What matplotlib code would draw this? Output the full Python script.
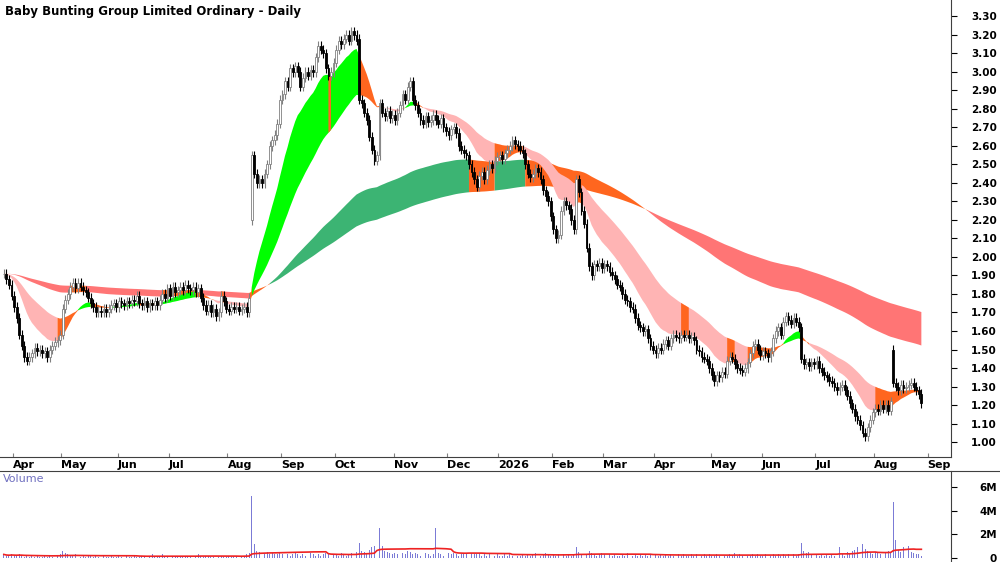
import matplotlib.pyplot as plt
import numpy as np
import pandas as pd

title = 'Baby Bunting Group Limited Ordinary - Daily'
month_labels = ['Apr', 'May', 'Jun', 'Jul', 'Aug', 'Sep', 'Oct', 'Nov', 'Dec', '2026',
                'Feb', 'Mar', 'Apr', 'May', 'Jun', 'Jul', 'Aug', 'Sep']
month_start_idx = [4, 23, 45, 65, 88, 109, 130, 153, 174, 194, 215, 235, 255, 277, 297, 318, 341, 362]

# daily closes, late Mar 2025 .. end Aug 2026 (20 bars per row)
close = [
    1.91, 1.88, 1.85, 1.79, 1.73, 1.67, 1.58, 1.52, 1.46, 1.44, 1.46, 1.48, 1.51, 1.49, 1.50, 1.48, 1.49, 1.46, 1.50, 1.52,
    1.54, 1.55, 1.58, 1.72, 1.77, 1.80, 1.84, 1.86, 1.83, 1.86, 1.84, 1.82, 1.81, 1.78, 1.75, 1.73, 1.70, 1.71, 1.70, 1.72,
    1.70, 1.72, 1.74, 1.75, 1.73, 1.76, 1.75, 1.74, 1.76, 1.75, 1.77, 1.76, 1.79, 1.75, 1.74, 1.76, 1.73, 1.75, 1.74, 1.76,
    1.74, 1.77, 1.80, 1.78, 1.83, 1.79, 1.84, 1.81, 1.82, 1.84, 1.82, 1.85, 1.83, 1.82, 1.84, 1.81, 1.83, 1.78, 1.74, 1.71,
    1.74, 1.70, 1.72, 1.68, 1.70, 1.79, 1.76, 1.72, 1.71, 1.73, 1.72, 1.73, 1.71, 1.72, 1.73, 1.70, 1.78, 2.55, 2.45, 2.40,
    2.42, 2.40, 2.45, 2.50, 2.60, 2.63, 2.66, 2.72, 2.85, 2.88, 2.95, 2.92, 3.02, 3.00, 3.03, 3.00, 2.92, 2.97, 3.00, 2.98,
    3.01, 3.00, 3.08, 3.14, 3.12, 3.10, 3.02, 2.98, 3.00, 3.05, 3.12, 3.17, 3.15, 3.18, 3.20, 3.17, 3.22, 3.20, 3.17, 2.85,
    2.83, 2.78, 2.74, 2.65, 2.58, 2.52, 2.55, 2.83, 2.78, 2.76, 2.79, 2.75, 2.77, 2.74, 2.78, 2.82, 2.88, 2.85, 2.92, 2.95,
    2.85, 2.82, 2.78, 2.74, 2.72, 2.76, 2.73, 2.74, 2.77, 2.74, 2.72, 2.75, 2.70, 2.68, 2.66, 2.69, 2.70, 2.67, 2.60, 2.58,
    2.56, 2.55, 2.50, 2.46, 2.42, 2.38, 2.44, 2.46, 2.42, 2.47, 2.50, 2.48, 2.52, 2.54, 2.55, 2.53, 2.56, 2.58, 2.60, 2.63,
    2.61, 2.60, 2.58, 2.56, 2.50, 2.45, 2.43, 2.45, 2.48, 2.46, 2.42, 2.36, 2.33, 2.30, 2.22, 2.15, 2.10, 2.12, 2.25, 2.30,
    2.28, 2.26, 2.20, 2.15, 2.42, 2.35, 2.25, 2.18, 2.05, 1.95, 1.90, 1.96, 1.95, 1.97, 1.94, 1.96, 1.95, 1.92, 1.90, 1.88,
    1.85, 1.84, 1.80, 1.77, 1.76, 1.73, 1.72, 1.67, 1.63, 1.62, 1.60, 1.61, 1.56, 1.52, 1.50, 1.48, 1.51, 1.50, 1.53, 1.55,
    1.52, 1.56, 1.58, 1.57, 1.56, 1.58, 1.57, 1.58, 1.56, 1.57, 1.55, 1.50, 1.49, 1.46, 1.45, 1.44, 1.40, 1.36, 1.33, 1.36,
    1.35, 1.38, 1.37, 1.44, 1.46, 1.45, 1.42, 1.40, 1.39, 1.38, 1.40, 1.43, 1.48, 1.52, 1.53, 1.50, 1.47, 1.49, 1.48, 1.46,
    1.49, 1.56, 1.60, 1.62, 1.58, 1.65, 1.68, 1.66, 1.64, 1.67, 1.65, 1.62, 1.45, 1.42, 1.43, 1.41, 1.43, 1.42, 1.44, 1.40,
    1.38, 1.36, 1.35, 1.33, 1.32, 1.30, 1.28, 1.30, 1.31, 1.28, 1.25, 1.21, 1.18, 1.14, 1.12, 1.09, 1.05, 1.03, 1.08, 1.12,
    1.16, 1.18, 1.17, 1.20, 1.18, 1.20, 1.17, 1.22, 1.32, 1.30, 1.28, 1.31, 1.29, 1.30, 1.31, 1.32, 1.30, 1.28, 1.26, 1.21,
]
# gap opens that differ from the previous close
open_overrides = {97: 2.20, 139: 3.18, 312: 1.62, 348: 1.50}

# daily volume in millions
volume = [
    .3, .2, .2, .3, .2, .2, .3, .2, .1, .2, .1, .2, .1, .2, .1, .1, .2, .1, .2, .1,
    .2, .2, .3, .6, .4, .3, .2, .2, .3, .2, .1, .2, .1, .2, .2, .1, .2, .1, .1, .2,
    .1, .1, .2, .1, .1, .2, .1, .1, .2, .1, .1, .2, .1, .1, .2, .1, .1, .2, .3, .1,
    .1, .2, .3, .2, .1, .2, .1, .2, .1, .1, .2, .1, .1, .2, .1, .2, .3, .2, .1, .2,
    .2, .1, .1, .2, .1, .2, .1, .1, .2, .1, .1, .2, .1, .1, .2, .3, .4, 5.2, 1.2, .6,
    .5, .4, .3, .5, .3, .4, .3, .3, .4, .3, .4, .3, .2, .3, .4, .3, .2, .3, .2, .3,
    .4, .3, .2, .3, .2, .3, .4, .3, .2, .3, .3, .2, .4, .3, .2, .3, .4, .3, .5, 1.3,
    .6, .5, .4, .7, .9, 1.0, 7.0, 2.5, 1.0, .6, .5, .4, .3, .4, .3, .3, .4, .3, .6, .5,
    .3, .4, .3, .2, .3, .4, .3, .2, .3, 2.5, .4, .3, .2, .3, .4, .3, .4, .3, .2, .3,
    .3, .4, .6, .4, .3, .3, .4, .2, .3, .2, .3, .2, .2, .3, .2, .2, .3, .2, .3, .2,
    .3, .2, .2, .3, .2, .3, .2, .3, .4, .3, .2, .3, .4, .3, .2, .3, .2, .3, .4, .3,
    .2, .3, .2, .3, .9, .5, .3, .4, .3, .6, .4, .3, .2, .3, .4, .3, .2, .3, .2, .3,
    .2, .2, .3, .2, .4, .3, .2, .3, .2, .3, .2, .3, .2, .3, .2, .3, .2, .3, .2, .3,
    .2, .3, .2, .2, .3, .2, .3, .2, .2, .3, .2, .3, .2, .2, .3, .2, .3, .2, .2, .3,
    .2, .3, .2, .2, .3, .2, .4, .2, .3, .2, .3, .2, .2, .3, .2, .3, .2, .2, .3, .3,
    .2, .3, .2, .3, .2, .3, .2, .3, .2, .3, .2, .3, 1.3, .6, .4, .5, .3, .4, .3, .2,
    .3, .2, .3, .2, .3, .2, .3, .9, .3, .2, .5, .3, .6, .7, .9, 1.1, 1.2, .8, .6, .4,
    .3, .5, .4, .3, .3, .4, .6, .5, 4.7, 1.5, .7, .5, .9, .6, 1.0, .5, .4, .3, .3, .2,
]

close = np.array(close)
vol = np.array(volume)
n = len(close)
x = np.arange(n)
opn = np.r_[close[0], close[:-1]]
for k, v in open_overrides.items():
    opn[k] = v
high = np.maximum(opn, close) + 0.025
low = np.minimum(opn, close) - 0.025

s = pd.Series(close)
ema = lambda p: s.ewm(span=p, adjust=False).mean().values
short_fast, short_slow = ema(15), ema(40)
long_fast, long_slow = ema(130), ema(220)

fig = plt.figure(figsize=(10, 5.62), dpi=100)
ax = fig.add_axes([0, 105 / 562, 0.951, 457 / 562])
axv = fig.add_axes([0, 0, 0.951, 91 / 562])

def ribbon(a, fast, slow, up_col, dn_col, mid_col):
    rising = np.r_[True, np.diff(fast) > 0]
    state = np.where((fast > slow) & rising, 0, np.where((fast < slow) & ~rising, 1, 2))
    cols = [up_col, dn_col, mid_col]
    lo, hi = np.minimum(fast, slow), np.maximum(fast, slow)
    for k in range(3):
        m = state == k
        m = m | np.r_[False, m[:-1]]
        a.fill_between(x, lo, hi, where=m, color=cols[k], lw=0, zorder=1)

ribbon(ax, long_fast, long_slow, '#3cb473', '#ff7575', '#ff661f')
ribbon(ax, short_fast, short_slow, '#00ff00', '#ffb4b4', '#ff661f')

up = close >= opn
ax.vlines(x, low, high, color=np.where(up, '#808080', 'black'), lw=0.8, zorder=2)
ax.bar(x[up], close[up] - opn[up], bottom=opn[up], width=0.7, color='white',
       edgecolor='#808080', lw=0.6, zorder=3)
ax.bar(x[~up], opn[~up] - close[~up], bottom=close[~up], width=0.7, color='black',
       edgecolor='black', lw=0.6, zorder=3)

xlim = (-1.5, 370.6)
ax.set_xlim(xlim)
ax.set_ylim(0.919, 3.389)
ax.yaxis.tick_right()
yt = np.round(np.arange(1.0, 3.31, 0.1), 2)
ax.set_yticks(yt)
ax.set_yticklabels([f'{v:.2f}' for v in yt], fontsize=7.5, fontweight='bold', ha='right')
ax.tick_params(axis='y', direction='out', length=4, pad=29, width=0.8)
ax.set_xticks(np.array(month_start_idx) - 0.5)
ax.set_xticklabels(month_labels, fontsize=8, fontweight='bold', ha='left')
ax.tick_params(axis='x', direction='in', length=3, pad=2, color='#808080')
for sp in ['top', 'left']:
    ax.spines[sp].set_visible(False)
ax.spines['right'].set_color('#404040')
ax.spines['bottom'].set_color('#404040')
ax.text(0.005, 0.99, title, transform=ax.transAxes, fontsize=8.5, fontweight='bold', va='top')

axv.bar(x, vol, width=0.35, color='#7b7bd6', zorder=2)
axv.plot(x, pd.Series(vol).rolling(30, min_periods=1).mean(), color='#ee2222', lw=1.2, zorder=3)
axv.set_xlim(xlim)
axv.set_ylim(-0.34, 7.35)
axv.yaxis.tick_right()
axv.set_yticks([0, 2, 4, 6])
axv.set_yticklabels(['0', '2M', '4M', '6M'], fontsize=7.5, fontweight='bold', ha='right')
axv.tick_params(axis='y', direction='out', length=4, pad=29, width=0.8)
axv.set_xticks([])
for sp in ['top', 'left', 'bottom']:
    axv.spines[sp].set_visible(False)
axv.spines['right'].set_color('#404040')
axv.text(0.003, 0.97, 'Volume', transform=axv.transAxes, fontsize=8, color='#7070c0', va='top')
fig.add_artist(plt.Line2D([0, 1], [91 / 562, 91 / 562], color='#404040', lw=0.8))

fig.savefig('out.png', dpi=100)
